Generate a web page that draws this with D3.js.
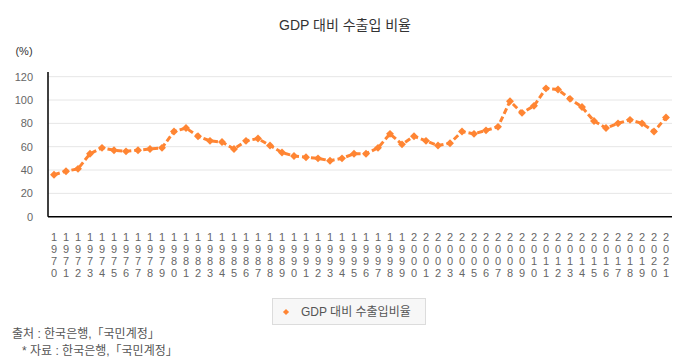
<!DOCTYPE html>
<html>
<head>
<meta charset="utf-8">
<script src="https://cdn.jsdelivr.net/npm/d3@7"></script>
<style>
  html, body { margin: 0; padding: 0; background: #fff; }
  svg { display: block; font-family: "Liberation Sans", Arial, "Noto Sans CJK KR", sans-serif; }
</style>
</head>
<body>
<svg id="chart" width="690" height="360"></svg>
<script>
const years = d3.range(1970, 2022).map(String);
const ratio = [36, 39, 41, 54, 59, 57, 56, 57, 58, 59,
               73, 76, 69, 65, 64, 58, 65, 67, 61, 55,
               52, 51, 50, 48, 50, 54, 54, 59, 71, 62,
               69, 65, 61, 63, 73, 71, 74, 77, 99, 89,
               95, 110, 109, 101, 94, 82, 76, 80, 83, 80,
               73, 85];
const yTicks = [0, 20, 40, 60, 80, 100, 120];
const title = "GDP 대비 수출입 비율";
const seriesName = "GDP 대비 수출입비율";
const unitLabel = "(%)";
const notes = ["출처 : 한국은행,「국민계정」", "* 자료 : 한국은행,「국민계정」"];

const color = "#ff8533";
const svg = d3.select("#chart");
const m = { left: 48, right: 672, top: 76.7, bottom: 216.7 };

const x = d3.scaleBand().domain(years).range([m.left, m.right]);
const y = d3.scaleLinear().domain([0, 120]).range([m.bottom, m.top]);

// title
svg.append("text").attr("x", 345).attr("y", 30).attr("text-anchor", "middle")
  .attr("font-size", 14).attr("fill", "#333").text(title);

// unit
svg.append("text").attr("x", 24).attr("y", 55).attr("text-anchor", "middle")
  .attr("font-size", 11).attr("fill", "#333").text(unitLabel);

// grid
svg.append("g").selectAll("line").data(yTicks.filter(d => d > 0)).join("line")
  .attr("x1", m.left).attr("x2", m.right)
  .attr("y1", d => y(d)).attr("y2", d => y(d))
  .attr("stroke", "#e6e6e6").attr("stroke-width", 1);

// y axis
const yAxis = svg.append("g").attr("transform", `translate(${m.left},0)`)
  .call(d3.axisLeft(y).tickValues(yTicks).tickSize(0).tickPadding(15));
yAxis.select(".domain").remove();
yAxis.selectAll("text").attr("font-size", 11).attr("fill", "#666")
  .attr("font-family", "Liberation Sans, Arial, sans-serif");

svg.append("line").attr("x1", m.left).attr("x2", m.left)
  .attr("y1", 72).attr("y2", m.bottom).attr("stroke", "#000").attr("stroke-width", 1.5);
svg.append("line").attr("x1", m.left).attr("x2", m.right)
  .attr("y1", m.bottom).attr("y2", m.bottom).attr("stroke", "#000").attr("stroke-width", 1.5);

// x labels (stacked vertical digits)
const xAxis = svg.append("g").attr("transform", `translate(0,${m.bottom})`)
  .call(d3.axisBottom(x).tickSize(0).tickFormat(""));
xAxis.select(".domain").remove();
xAxis.selectAll(".tick").each(function(d) {
  const t = d3.select(this).append("text")
    .attr("fill", "#666").attr("font-size", 11).attr("text-anchor", "middle")
    .attr("font-family", "Liberation Sans, Arial, sans-serif");
  d.split("").forEach((c, i) => {
    t.append("tspan").attr("x", 0).attr("y", 24 + i * 12).text(c);
  });
});

// line
const line = d3.line().x((d, i) => x(years[i]) + x.bandwidth() / 2).y(d => y(d));
svg.append("path").datum(ratio).attr("d", line)
  .attr("fill", "none").attr("stroke", color).attr("stroke-width", 3)
  .attr("stroke-dasharray", "6,3");

// markers
const diamond = d3.symbol().type(d3.symbolDiamond2).size(40);
svg.append("g").selectAll("path").data(ratio).join("path")
  .attr("d", diamond)
  .attr("transform", (d, i) => `translate(${x(years[i]) + x.bandwidth() / 2},${y(d)})`)
  .attr("fill", color);

// legend
const lg = svg.append("g");
lg.append("rect").attr("x", 272.5).attr("y", 298.5).attr("width", 153).attr("height", 26)
  .attr("fill", "#f7f7f7").attr("stroke", "#dcdcdc");
lg.append("path").attr("d", d3.symbol().type(d3.symbolDiamond2).size(24))
  .attr("transform", "translate(286,312)").attr("fill", color);
lg.append("text").attr("x", 301).attr("y", 316).attr("font-size", 12).attr("fill", "#555")
  .text(seriesName);

// notes
svg.append("text").attr("x", 12).attr("y", 338).attr("font-size", 12).attr("fill", "#555").text(notes[0]);
svg.append("text").attr("x", 22).attr("y", 355).attr("font-size", 12).attr("fill", "#555").text(notes[1]);
</script>
</body>
</html>
